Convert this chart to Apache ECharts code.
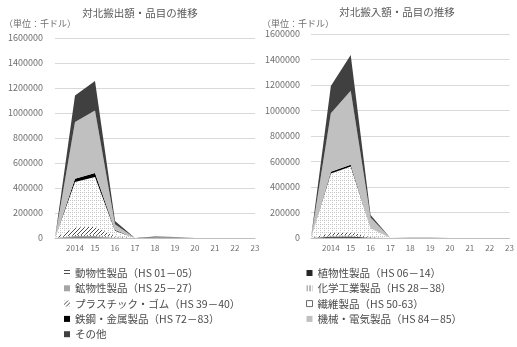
<!DOCTYPE html>
<html>
<head>
<meta charset="utf-8">
<script src="https://cdn.jsdelivr.net/npm/echarts@6/dist/echarts.min.js"></script>
<style>
  html, body { margin: 0; padding: 0; background: #fff; }
  #chart { width: 517px; height: 347px; }
</style>
</head>
<body>
<div id="chart"></div>
<script>
// Years on the category axis (the first slot is the unlabeled starting point)
const categories = ['', '2014', '15', '16', '17', '18', '19', '20', '21', '22', '23'];
const yTicks = { min: 0, max: 1600000, interval: 200000 };

const seriesNames = [
  '動物性製品（HS 01－05）',
  '植物性製品（HS 06－14）',
  '鉱物性製品（HS 25－27）',
  '化学工業製品（HS 28－38）',
  'プラスチック・ゴム（HS 39－40）',
  '繊維製品（HS 50-63）',
  '鉄鋼・金属製品（HS 72－83）',
  '機械・電気製品（HS 84－85）',
  'その他'
];

// 対北搬出額（千ドル）
const expAnimal   = [0, 3000, 3000, 500, 0, 0, 0, 0, null, null, null];
const expPlant    = [0, 3000, 3000, 500, 0, 1000, 500, 0, null, null, null];
const expMineral  = [0, 10000, 10000, 2000, 0, 0, 0, 0, null, null, null];
const expChem     = [0, 9000, 12000, 3000, 0, 1000, 1000, 0, null, null, null];
const expPlastic  = [0, 60000, 62000, 8000, 0, 0, 0, 0, null, null, null];
const expTextile  = [0, 363000, 398000, 45000, 0, 500, 500, 0, null, null, null];
const expSteel    = [0, 27000, 32000, 5000, 0, 2000, 1000, 0, null, null, null];
const expMachine  = [0, 453000, 501000, 47000, 0, 2500, 2000, 0, null, null, null];
const expOther    = [0, 212000, 235000, 25000, 500, 6000, 4000, 0, null, null, null];

// 対北搬入額（千ドル）
const impAnimal   = [0, 2000, 2000, 500, 0, 0, 0, 0, null, null, null];
const impPlant    = [0, 8000, 9000, 1500, 0, 500, 0, 0, null, null, null];
const impMineral  = [0, 3000, 3000, 500, 0, 0, 0, 0, null, null, null];
const impChem     = [0, 6000, 7000, 1000, 0, 0, 0, 0, null, null, null];
const impPlastic  = [0, 21000, 24000, 4000, 0, 0, 0, 0, null, null, null];
const impTextile  = [0, 465000, 515000, 70000, 0, 500, 0, 0, null, null, null];
const impSteel    = [0, 15000, 15000, 2500, 0, 0, 0, 0, null, null, null];
const impMachine  = [0, 458000, 580000, 80000, 0, 500, 500, 0, null, null, null];
const impOther    = [0, 214000, 280000, 20000, 0, 2000, 500, 0, null, null, null];

const exportData = [expAnimal, expPlant, expMineral, expChem, expPlastic, expTextile, expSteel, expMachine, expOther];
const importData = [impAnimal, impPlant, impMineral, impChem, impPlastic, impTextile, impSteel, impMachine, impOther];

// Small repeating fill patterns
function makePattern(w, h, draw) {
  const c = document.createElement('canvas');
  c.width = w; c.height = h;
  const g = c.getContext('2d');
  g.fillStyle = '#ffffff';
  g.fillRect(0, 0, w, h);
  draw(g);
  return { image: c, repeat: 'repeat' };
}
const hStripes = makePattern(3, 3, g => { g.fillStyle = '#505050'; g.fillRect(0, 0, 3, 1); });
const vStripes = makePattern(3, 3, g => { g.fillStyle = '#6a6a6a'; g.fillRect(0, 0, 1, 3); });
const diagHatch = makePattern(4, 4, g => {
  g.fillStyle = '#4a4a4a';
  for (let i = 0; i < 4; i++) g.fillRect(i, 3 - i, 1, 1);
});
const dotGrid = makePattern(4, 4, g => {
  g.fillStyle = '#c4c4c4';
  g.fillRect(0, 0, 1, 1); g.fillRect(2, 0, 1, 1); g.fillRect(0, 2, 1, 1);
});

const solidColors = ['#505050', '#262626', '#a5a5a5', '#7a7a7a', '#4a4a4a', '#ffffff', '#000000', '#c0c0c0', '#404040'];
const areaFills   = [hStripes, '#262626', '#a5a5a5', vStripes, diagHatch, dotGrid, '#000000', '#c0c0c0', '#404040'];

const fontFamily = '"Noto Sans CJK JP", "Liberation Sans", sans-serif';

function buildSeries(data, idx, stack) {
  return data.map((vals, i) => ({
    name: seriesNames[i],
    type: 'line',
    stack: stack,
    xAxisIndex: idx,
    yAxisIndex: idx,
    symbol: 'none',
    silent: true,
    color: solidColors[i],
    lineStyle: { width: 0 },
    areaStyle: { color: areaFills[i], opacity: 1 },
    data: vals
  }));
}

function xAxisFor(idx) {
  return {
    type: 'category', gridIndex: idx, data: categories, boundaryGap: false,
    axisLine: { lineStyle: { color: '#bfbfbf', width: 1 } },
    axisTick: { show: false },
    axisLabel: { interval: 0, fontSize: 8, color: '#6f6f6f', margin: 6, fontFamily: fontFamily }
  };
}
function yAxisFor(idx, margin) {
  return {
    type: 'value', gridIndex: idx, min: yTicks.min, max: yTicks.max, interval: yTicks.interval,
    axisLine: { show: false }, axisTick: { show: false },
    splitLine: { lineStyle: { color: '#d9d9d9', width: 1 } },
    axisLabel: { fontSize: 9, color: '#6f6f6f', margin: margin, fontFamily: fontFamily,
      formatter: v => String(v) }
  };
}

function legendItem(i) {
  const item = { name: seriesNames[i], icon: 'rect' };
  item.itemStyle = { color: areaFills[i], borderWidth: 0 };
  if (i === 5) item.itemStyle = { color: '#ffffff', borderColor: '#6a6a6a', borderWidth: 1 };
  return item;
}

const legendCommon = {
  orient: 'vertical', itemWidth: 6, itemHeight: 6, itemGap: 3.3,
  selectedMode: false,
  textStyle: { fontSize: 10.5, color: '#4a4a4a', fontFamily: fontFamily, lineHeight: 12 }
};

const chart = echarts.init(document.getElementById('chart'), null, { renderer: 'canvas' });
chart.setOption({
  animation: false,
  backgroundColor: '#ffffff',
  title: [
    { text: '対北搬出額・品目の推移', left: 135, top: 3, textAlign: 'center',
      textStyle: { fontSize: 10.5, fontWeight: 'normal', color: '#595959', fontFamily: fontFamily } },
    { text: '対北搬入額・品目の推移', left: 392, top: 2, textAlign: 'center',
      textStyle: { fontSize: 10.5, fontWeight: 'normal', color: '#595959', fontFamily: fontFamily } }
  ],
  graphic: [
    { type: 'text', left: 4, top: 19, style: { text: '（単位：千ドル）', fontSize: 9, fill: '#6f6f6f', fontFamily: fontFamily } },
    { type: 'text', left: 262, top: 19, style: { text: '（単位：千ドル）', fontSize: 9, fill: '#6f6f6f', fontFamily: fontFamily } }
  ],
  legend: [
    Object.assign({}, legendCommon, { left: 59, top: 262, data: [0, 2, 4, 6, 8].map(legendItem) }),
    Object.assign({}, legendCommon, { left: 301, top: 262, data: [1, 3, 5, 7].map(legendItem) })
  ],
  grid: [
    { left: 55, width: 200, top: 38, height: 200 },
    { left: 311, width: 200, top: 34, height: 204 }
  ],
  xAxis: [xAxisFor(0), xAxisFor(1)],
  yAxis: [yAxisFor(0, 12), yAxisFor(1, 11)],
  series: buildSeries(exportData, 0, 'exp').concat(buildSeries(importData, 1, 'imp'))
});
</script>
</body>
</html>
